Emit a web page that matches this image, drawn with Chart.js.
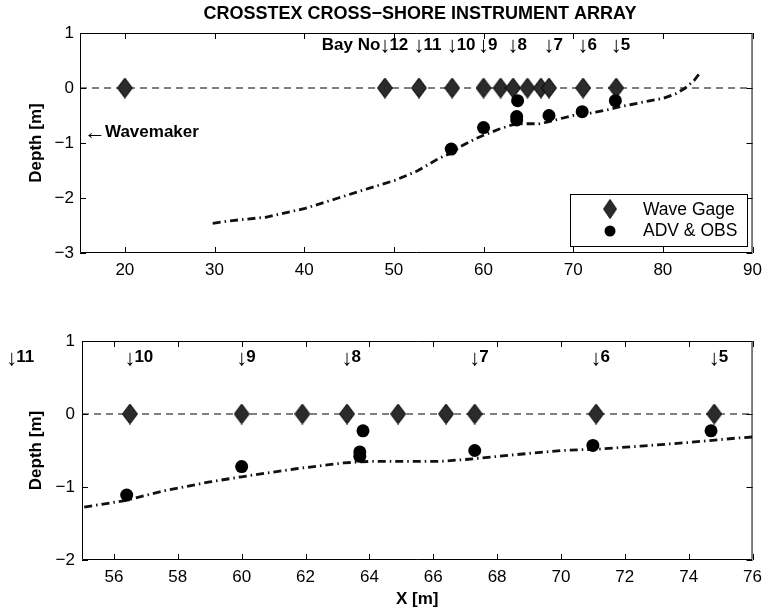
<!DOCTYPE html>
<html lang="en">
<head>
  <meta charset="UTF-8">
  <title>CROSSTEX cross-shore instrument array</title>
  <script src="https://cdn.jsdelivr.net/npm/chart.js"></script>
  <style>
    html, body { margin: 0; padding: 0; background: #fff; }
    .panel { position: absolute; left: 0; }
    #topBox { top: 0; }
    #botBox { top: 300px; }
  </style>
</head>
<body>
  <div class="panel" id="topBox"><canvas id="topPlot" width="769" height="300"></canvas></div>
  <div class="panel" id="botBox"><canvas id="botPlot" width="769" height="311"></canvas></div>

  <script>
    // ---- instrument positions (m) ----
    const gageX = [20, 49, 52.8, 56.5, 60.0, 61.9, 63.3, 64.9, 66.4, 67.3, 71.1, 74.8];
    const gageZ = [0, 0, 0, 0, 0, 0, 0, 0, 0, 0, 0, 0];
    const advX = [56.4, 60.0, 63.8, 63.7, 63.7, 67.3, 71.0, 74.7];
    const advZ = [-1.11, -0.72, -0.23, -0.52, -0.58, -0.50, -0.43, -0.23];

    // ---- bottom profile ----
    const bedX = [29.8, 32, 35.7, 40.1, 43.8, 46.7, 50.1, 52.6, 54, 55, 56.3, 57.6, 59, 60, 61.7,
                  63.2, 64, 65.2, 66.2, 67.1, 68.5, 70, 71.2, 72.5, 74, 75.5, 76.5, 78, 80, 81.5,
                  82.5, 83.5, 84.2];
    const bedZ = [-2.46, -2.41, -2.35, -2.19, -2.0, -1.85, -1.68, -1.51, -1.38, -1.28, -1.19, -1.05,
                  -0.93, -0.86, -0.75, -0.67, -0.65, -0.65, -0.65, -0.62, -0.56, -0.50, -0.48, -0.44,
                  -0.39, -0.33, -0.30, -0.25, -0.19, -0.10, 0.0, 0.14, 0.29];

    // ---- bay labels ----
    const bayNo = ["12", "11", "10", "9", "8", "7", "6", "5"];
    const bayX = [49, 52.8, 56.5, 60.0, 63.3, 67.3, 71.1, 74.8];

    // ---- axes ----
    const topXLim = [15, 90];
    const topYLim = [-3, 1];
    const topXTicks = [20, 30, 40, 50, 60, 70, 80, 90];
    const topYTicks = [1, 0, -1, -2, -3];
    const botXLim = [55, 76];
    const botYLim = [-2, 1];
    const botXTicks = [56, 58, 60, 62, 64, 66, 68, 70, 72, 74, 76];
    const botYTicks = [1, 0, -1, -2];

    const FONT = '"Liberation Sans", Arial, Helvetica, sans-serif';
    const pts = (xs, ys) => xs.map((x, i) => ({ x: x, y: ys[i] }));

    // filled diamond, taller than wide like the matlab marker
    function diamondMarker(w, h) {
      const c = document.createElement('canvas');
      c.width = w; c.height = h;
      const g = c.getContext('2d');
      g.beginPath();
      g.moveTo(w / 2, 0.5); g.lineTo(w - 0.5, h / 2);
      g.lineTo(w / 2, h - 0.5); g.lineTo(0.5, h / 2);
      g.closePath();
      g.fillStyle = '#2b2b2b'; g.fill();
      g.strokeStyle = '#000'; g.lineWidth = 1; g.stroke();
      return c;
    }
    const diamond = diamondMarker(16, 21);

    function datasets(xlim) {
      return [
        { label: 'ADV & OBS', data: pts(advX, advZ), pointStyle: 'circle', pointRadius: 6.5,
          backgroundColor: '#000', borderColor: '#000', borderWidth: 0 },
        { label: 'Wave Gage', data: pts(gageX, gageZ), pointStyle: diamond, pointRadius: 8 },
        { label: 'bed', data: pts(bedX, bedZ), showLine: true, pointRadius: 0,
          borderColor: '#111', borderWidth: 2.8, borderDash: [8, 4, 1.5, 4] },
        { label: 'swl', data: pts(xlim, [0, 0]), showLine: true, pointRadius: 0,
          borderColor: '#000', borderWidth: 1, borderDash: [7, 5] }
      ];
    }

    const minus = v => String(v).replace('-', '\u2212');

    function axisOpts(lim, ticks, fit, pad) {
      return {
        type: 'linear', min: lim[0], max: lim[1],
        afterBuildTicks: s => { s.ticks = ticks.map(v => ({ value: v })); },
        afterFit: fit,
        grid: { display: false, drawTicks: false },
        border: { display: false },
        ticks: { color: '#000', padding: pad, font: { family: FONT, size: 17 }, callback: minus }
      };
    }

    // arrow glyph drawn a bit larger than the label text
    function arrowText(ctx, arrow, label, x, y, size) {
      ctx.font = (size + 5) + 'px ' + FONT;
      const aw = ctx.measureText(arrow).width;
      ctx.fillText(arrow, x, y + 1);
      ctx.font = 'bold ' + size + 'px ' + FONT;
      ctx.fillText(label, x + aw - 1, y);
      return aw;
    }

    // box, inward ticks, labels and legend
    const decor = {
      id: 'decor',
      afterDatasetsDraw(chart, args, opts) {
        const { ctx, chartArea: a, scales } = chart;
        const sx = scales.x, sy = scales.y;
        ctx.save();
        ctx.strokeStyle = '#000';
        ctx.lineWidth = 1;
        ctx.beginPath();
        ctx.rect(a.left + 0.5, a.top + 0.5, a.right - a.left - 1, a.bottom - a.top - 1);
        opts.xt.forEach(v => {
          const p = Math.round(sx.getPixelForValue(v)) + 0.5;
          ctx.moveTo(p, a.bottom); ctx.lineTo(p, a.bottom - 6);
          ctx.moveTo(p, a.top); ctx.lineTo(p, a.top + 6);
        });
        opts.yt.forEach(v => {
          const p = Math.round(sy.getPixelForValue(v)) + 0.5;
          ctx.moveTo(a.left, p); ctx.lineTo(a.left + 6, p);
          ctx.moveTo(a.right, p); ctx.lineTo(a.right - 6, p);
        });
        ctx.stroke();

        ctx.fillStyle = '#000';
        ctx.textBaseline = 'middle';

        // y label
        ctx.save();
        ctx.translate(36.5, (a.top + a.bottom) / 2);
        ctx.rotate(-Math.PI / 2);
        ctx.textAlign = 'center';
        ctx.font = 'bold 17px ' + FONT;
        ctx.fillText('Depth [m]', 0, 0);
        ctx.restore();

        // bay markers
        ctx.textAlign = 'left';
        ctx.font = '22px ' + FONT;
        const aw = ctx.measureText('\u2193').width;
        const by = sy.getPixelForValue(opts.bayY);
        bayNo.forEach((n, i) => {
          const px = sx.getPixelForValue(bayX[i]) - aw / 2;
          arrowText(ctx, '\u2193', n, px, by, 17);
          if (opts.bayPrefix && i === 0) {
            ctx.textAlign = 'right';
            ctx.font = 'bold 17px ' + FONT;
            ctx.fillText('Bay No', px + 1, by);
            ctx.textAlign = 'left';
          }
        });

        if (opts.top) {
          ctx.textAlign = 'center';
          ctx.font = 'bold 18px ' + FONT;
          ctx.fillText('CROSSTEX CROSS\u2212SHORE INSTRUMENT ARRAY', 420, 14);
          ctx.textAlign = 'left';
          arrowText(ctx, '\u2190', 'Wavemaker', a.left + 4, sy.getPixelForValue(-0.8), 17);

          // legend
          const L = 570, T = 194, R = 747, B = 246;
          ctx.fillStyle = '#fff';
          ctx.fillRect(L, T, R - L, B - T);
          ctx.strokeRect(L + 0.5, T + 0.5, R - L, B - T);
          ctx.drawImage(diamond, 610 - 7, 209 - 10, 14, 20);
          ctx.fillStyle = '#000';
          ctx.beginPath();
          ctx.arc(610, 231, 5.5, 0, Math.PI * 2);
          ctx.fill();
          ctx.font = '17.5px ' + FONT;
          ctx.fillText('Wave Gage', 643, 210);
          ctx.fillText('ADV & OBS', 643, 231);
        } else {
          ctx.textAlign = 'center';
          ctx.font = 'bold 17px ' + FONT;
          ctx.fillText('X [m]', (a.left + a.right) / 2, 299);
        }
        ctx.restore();
      }
    };

    new Chart('topPlot', {
      type: 'scatter',
      data: { datasets: datasets(topXLim) },
      options: {
        responsive: false,
        animation: false,
        layout: { padding: { left: 0, right: 12, top: 33, bottom: 0 } },
        plugins: {
          legend: { display: false },
          tooltip: { enabled: false },
          decor: { xt: topXTicks, yt: topYTicks, bayY: 0.78, bayPrefix: true, top: true }
        },
        scales: {
          x: axisOpts(topXLim, topXTicks, s => { s.height = 47; }, 7),
          y: axisOpts(topYLim, topYTicks, s => { s.width = 80; }, 6)
        }
      },
      plugins: [decor]
    });

    new Chart('botPlot', {
      type: 'scatter',
      data: { datasets: datasets(botXLim) },
      options: {
        responsive: false,
        animation: false,
        layout: { padding: { left: 0, right: 12, top: 41, bottom: 0 } },
        plugins: {
          legend: { display: false },
          tooltip: { enabled: false },
          decor: { xt: botXTicks, yt: botYTicks, bayY: 0.77, bayPrefix: false, top: false }
        },
        scales: {
          x: axisOpts(botXLim, botXTicks, s => { s.height = 51; }, 7),
          y: axisOpts(botYLim, botYTicks, s => { s.width = 82; }, 7)
        }
      },
      plugins: [decor]
    });
  </script>
</body>
</html>
